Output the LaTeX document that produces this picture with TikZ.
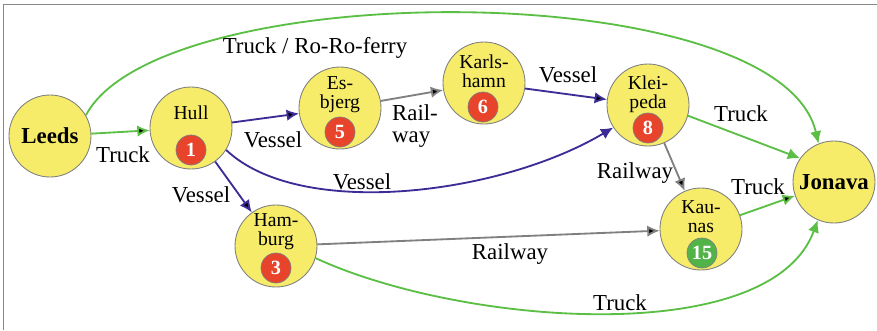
\documentclass[tikz,border=0pt]{standalone}
\usepackage{fontspec}
\setmainfont{Liberation Serif}
\usetikzlibrary{arrows.meta}
\definecolor{cityfill}{HTML}{F6EC6A}
\definecolor{nored}{HTML}{E8432B}
\definecolor{nogreen}{HTML}{52B448}
\definecolor{truckgreen}{HTML}{5CBF45}
\definecolor{vesselblue}{HTML}{3B2C96}
\definecolor{railgray}{HTML}{808080}
\definecolor{framegray}{HTML}{888888}
\tikzset{
  city/.style={circle, draw=gray, line width=0.5pt, fill=cityfill,
    minimum size=1.64cm, inner sep=0pt},
  endcity/.style={city, font=\fontsize{13}{13}\selectfont\bfseries},
  cityname/.style={font=\fontsize{11.2}{10.8}\selectfont, align=center, inner sep=0pt},
  cityno/.style={circle, draw=gray, line width=0.4pt, fill=nored, text=white,
    minimum size=0.6cm, inner sep=0pt, font=\fontsize{11.5}{11.5}\selectfont\bfseries},
  lab/.style={font=\fontsize{13}{12.5}\selectfont, inner sep=0pt},
  truck/.style={draw=truckgreen, line width=1.05pt, -{Latex[length=7pt,width=6.5pt]}},
  vessel/.style={draw=vesselblue, line width=1.05pt, -{Latex[length=7pt,width=6.5pt]}},
  rail/.style={draw=railgray, line width=1.05pt, -{Latex[length=7pt,width=6.5pt]}}
}
\begin{document}
\begin{tikzpicture}
\useasboundingbox (0,0) rectangle (17.54,-6.6);
\draw[framegray, line width=1.1pt] (0.07,-6.6) -- (0.07,-0.09) -- (17.54,-0.09);
% cities
\node[endcity] (leeds) at (1.0,-2.72) {Leeds};
\node[city] (hull) at (3.82,-2.56) {};
\node[city] (esbjerg) at (6.80,-2.16) {};
\node[city] (hamburg) at (5.52,-4.92) {};
\node[city] (karlshamn) at (9.68,-1.66) {};
\node[city] (klaipeda) at (12.96,-2.10) {};
\node[city] (kaunas) at (14.02,-4.58) {};
\node[endcity] (jonava) at (16.68,-3.64) {Jonava};
\node[cityname] (hullname) at (3.82,-2.25) {Hull};
\node[cityname] (esbjergname) at (6.80,-1.89) {Es-\\bjerg};
\node[cityname] (hamburgname) at (5.52,-4.63) {Ham-\\burg};
\node[cityname] (karlshamnname) at (9.68,-1.42) {Karls-\\hamn};
\node[cityname] (klaipedaname) at (12.96,-1.89) {Klei-\\peda};
\node[cityname] (kaunasname) at (14.02,-4.33) {Kau-\\nas};
\node[cityno] (hullno) at (3.82,-3.00) {1};
\node[cityno] (esbjergno) at (6.80,-2.64) {5};
\node[cityno] (hamburgno) at (5.52,-5.36) {3};
\node[cityno] (karlshamnno) at (9.66,-2.14) {6};
\node[cityno] (klaipedano) at (12.96,-2.56) {8};
\node[cityno, fill=nogreen] (kaunasno) at (14.04,-5.06) {15};
% links
\draw [truck] (leeds) edge (hull);
\draw [truck] (leeds.30) .. controls (3.2,0.5) and (15.6,0.5) .. (jonava.112);
\draw [vessel] (hull) edge (esbjerg);
\draw [vessel] (hull) edge (hamburg);
\draw [vessel] (hull.-32) .. controls (6.0,-4.4) and (10.0,-3.9) .. (klaipeda.213);
\draw [rail] (esbjerg) edge (karlshamn);
\draw [vessel] (karlshamn) edge (klaipeda);
\draw [truck] (klaipeda.-15) -- (jonava.145);
\draw [rail] (klaipeda) edge (kaunas);
\draw [truck] (kaunas) edge (jonava);
\draw [rail] (hamburg) edge (kaunas);
\draw [truck] (hamburg.-17) .. controls (9.2,-6.5) and (15.4,-7.0) .. (jonava.-113);
% link labels
\node[lab] (l1) at (6.30,-0.96) {Truck / Ro-Ro-ferry};
\node[lab] (l2) at (2.46,-3.10) {Truck};
\node[lab] (l3) at (5.46,-2.80) {Vessel};
\node[lab] (l4) at (4.02,-3.90) {Vessel};
\node[lab] (l5) at (7.24,-3.64) {Vessel};
\node[lab, align=left] (l6) at (8.30,-2.52) {Rail-\\way};
\node[lab] (l7) at (11.36,-1.50) {Vessel};
\node[lab] (l8) at (14.82,-2.28) {Truck};
\node[lab] (l9) at (12.70,-3.46) {Railway};
\node[lab] (l10) at (15.16,-3.74) {Truck};
\node[lab] (l11) at (10.20,-5.08) {Railway};
\node[lab] (l12) at (12.40,-6.06) {Truck};
\end{tikzpicture}
\end{document}
